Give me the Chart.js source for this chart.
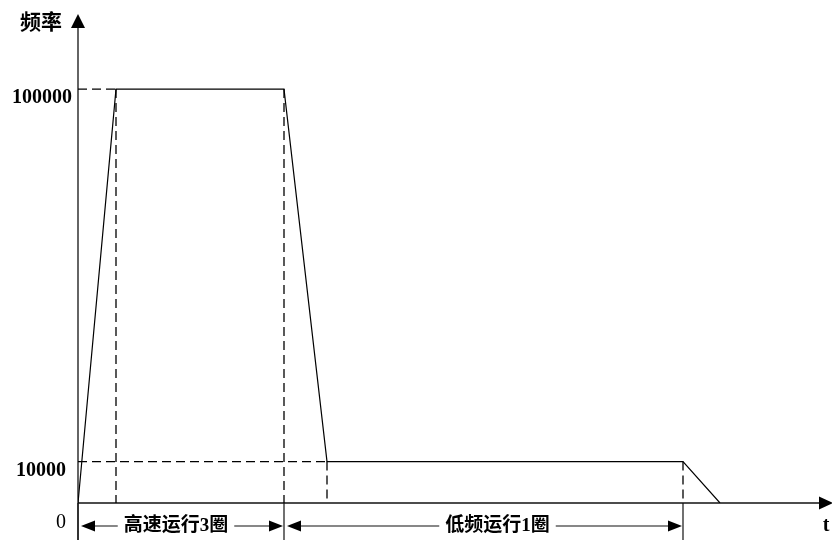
<!DOCTYPE html>
<html lang="zh">
<head>
  <meta charset="UTF-8">
  <title>频率曲线</title>
  <script src="https://cdn.jsdelivr.net/npm/chart.js"></script>
  <style>
    body { margin: 0; background: #fff; }
    #wrap { width: 832px; height: 540px; }
  </style>
</head>
<body>
  <div id="wrap"><canvas id="grafica"></canvas></div>
  <script>
    // datos
    var tiempos = [0, 38, 206, 249, 605, 642];
    var frecuencias = [0, 100000, 100000, 10000, 10000, 0];
    var ticksY = [0, 10000, 100000];
    var fases = ['高速运行3圈', '低频运行1圈'];
    var limitesFases = [0, 206, 605];

    var SERIF = "'Liberation Serif', 'Noto Sans CJK SC', serif";

    // curva principal
    var curva = tiempos.map(function (t, i) { return { x: t, y: frecuencias[i] }; });

    // lineas auxiliares discontinuas
    var guias = [];
    // horizontales hasta el eje y
    [1, 3].forEach(function (i) {
      guias.push([{ x: 0, y: frecuencias[i] }, { x: tiempos[i], y: frecuencias[i] }]);
    });
    // verticales hasta el eje x
    [1, 2, 3, 4].forEach(function (i) {
      guias.push([{ x: tiempos[i], y: frecuencias[i] }, { x: tiempos[i], y: 0 }]);
    });

    var datasets = guias.map(function (g) {
      return {
        data: g,
        borderColor: '#000',
        borderWidth: 1.3,
        borderDash: [9, 5],
        pointRadius: 0
      };
    });
    datasets.push({
      data: curva,
      borderColor: '#000',
      borderWidth: 1.2,
      pointRadius: 0,
      tension: 0
    });

    function flecha(ctx, x, y, dir, largo, ancho) {
      // dir: 'up', 'right', 'left'
      ctx.beginPath();
      if (dir === 'up') {
        ctx.moveTo(x, y);
        ctx.lineTo(x - ancho, y + largo);
        ctx.lineTo(x + ancho, y + largo);
      } else if (dir === 'right') {
        ctx.moveTo(x, y);
        ctx.lineTo(x - largo, y - ancho);
        ctx.lineTo(x - largo, y + ancho);
      } else {
        ctx.moveTo(x, y);
        ctx.lineTo(x + largo, y - ancho);
        ctx.lineTo(x + largo, y + ancho);
      }
      ctx.closePath();
      ctx.fill();
    }

    var ejes = {
      id: 'ejes',
      beforeDatasetsDraw: function (chart) {
        var ctx = chart.ctx;
        var sx = chart.scales.x, sy = chart.scales.y;
        var x0 = sx.getPixelForValue(0), y0 = sy.getPixelForValue(0);
        ctx.save();
        ctx.strokeStyle = '#111';
        ctx.fillStyle = '#000';
        ctx.lineWidth = 1.3;
        // eje y
        ctx.beginPath();
        ctx.moveTo(x0, 540);
        ctx.lineTo(x0, 26);
        ctx.stroke();
        flecha(ctx, x0, 14, 'up', 14, 7);
        // eje x
        ctx.beginPath();
        ctx.moveTo(x0, y0);
        ctx.lineTo(822, y0);
        ctx.stroke();
        flecha(ctx, 833, y0, 'right', 14, 6.5);
        ctx.restore();
      },
      afterDatasetsDraw: function (chart) {
        var ctx = chart.ctx;
        var sx = chart.scales.x, sy = chart.scales.y;
        var y0 = sy.getPixelForValue(0);
        ctx.save();
        ctx.fillStyle = '#000';
        ctx.strokeStyle = '#111';
        ctx.lineWidth = 1.2;

        // ticks del eje y
        ctx.textAlign = 'right';
        ctx.textBaseline = 'middle';
        ticksY.forEach(function (v) {
          var py = sy.getPixelForValue(v);
          ctx.font = (v === 0 ? 'normal ' : 'bold ') + '20px ' + SERIF;
          ctx.fillText(String(v), v === 100000 ? 72 : 66, py + (v === 0 ? 20 : 9));
        });

        // titulos de ejes
        ctx.font = 'bold 21px ' + SERIF;
        ctx.textAlign = 'center';
        ctx.fillText('频率', 41, 24);
        ctx.font = 'bold 20px ' + SERIF;
        ctx.fillText('t', 826, 526);

        // marcas verticales bajo el eje
        limitesFases.forEach(function (t) {
          var px = sx.getPixelForValue(t);
          ctx.beginPath();
          ctx.moveTo(px, y0);
          ctx.lineTo(px, 540);
          ctx.stroke();
        });

        // cotas de las fases
        var yc = 526;
        var desplaz = [-6, 13];
        ctx.font = 'bold 19px ' + SERIF;
        ctx.textAlign = 'center';
        ctx.textBaseline = 'middle';
        fases.forEach(function (txt, i) {
          var a = sx.getPixelForValue(limitesFases[i]) + 3;
          var b = sx.getPixelForValue(limitesFases[i + 1]) - 1;
          var m = (a + b) / 2 + desplaz[i];
          var w = ctx.measureText(txt).width / 2 + 6;
          ctx.beginPath();
          ctx.moveTo(a + 10, yc);
          ctx.lineTo(m - w, yc);
          ctx.moveTo(m + w, yc);
          ctx.lineTo(b - 10, yc);
          ctx.stroke();
          flecha(ctx, a, yc, 'left', 14, 5.5);
          flecha(ctx, b, yc, 'right', 14, 5.5);
          ctx.fillText(txt, m, yc);
        });
        ctx.restore();
      }
    };

    new Chart(document.getElementById('grafica'), {
      type: 'line',
      data: { datasets: datasets },
      options: {
        responsive: true,
        maintainAspectRatio: false,
        animation: false,
        layout: { padding: { left: 78, right: 14, top: 27, bottom: 37 } },
        plugins: { legend: { display: false }, tooltip: { enabled: false } },
        scales: {
          x: { type: 'linear', min: 0, max: 740, display: false },
          y: { type: 'linear', min: 0, max: 115000, display: false }
        }
      },
      plugins: [ejes]
    });
  </script>
</body>
</html>
